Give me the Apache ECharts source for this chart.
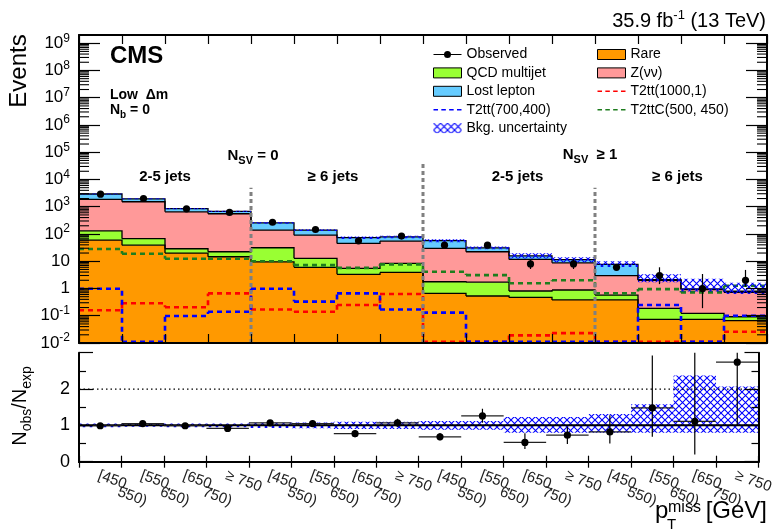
<!DOCTYPE html>
<html><head><meta charset="utf-8">
<script src="https://cdn.jsdelivr.net/npm/echarts@6/dist/echarts.min.js"></script>
<style>html,body{margin:0;padding:0;background:#fff}#c{width:776px;height:531px}</style>
</head><body><div id="c"></div>
<script>
// ---------------- data ----------------
const categories = ['[450, 550)','[550, 650)','[650, 750)','≥ 750',
                    '[450, 550)','[550, 650)','[650, 750)','≥ 750',
                    '[450, 550)','[550, 650)','[650, 750)','≥ 750',
                    '[450, 550)','[550, 650)','[650, 750)','≥ 750'];
const rare       = [60, 39, 20, 14.6, 9.5, 6.0, 3.3, 3.9, 0.66, 0.53, 0.47, 0.38, 0.38, 0.074, 0.074, 0.066];
const qcd        = [71, 28, 8.7, 7.7, 21.8, 6.8, 2.2, 4.5, 1.11, 1.17, 0.34, 0.5, 0.195, 0.113, 0.049, 0.026];
const znunu      = [1729, 1453, 624, 530, 108, 78, 39.5, 46.6, 27.7, 20.6, 10.8, 7.9, 2.37, 1.81, 0.78, 0.63];
const lostLepton = [1070, 430, 197, 128, 116, 48, 28, 23, 27.5, 8.7, 4.2, 2.7, 4.76, 0.1, 0.06, 0.07];
const observed   = [2900, 2000, 840, 620, 270, 146, 56, 84, 39, 39, 8, 8, 6, 3, 1, 2];
const observedLo = [2846, 1955, 811, 595, 254, 134, 49, 75, 33, 33, 5.2, 5.2, 5.4, 1.45, 0.19, 1.16];
const observedHi = [2954, 2045, 869, 645, 287, 158, 64, 94, 46, 46, 12, 12, 7.3, 6.0, 3.4, 4.8];
const t2tt1000   = [0.16, 0.286, 0.204, 0.66, 0.17, 0.14, 0.247, 0.63, 0.011, 0.011, 0.019, 0.023, 0.011, 0.011, 0.011, 0.026];
const t2tt700    = [0.98, 0.011, 0.098, 0.14, 0.98, 0.33, 0.66, 0.17, 0.13, 0.011, 0.011, 0.011, 0.011, 0.247, 0.011, 0.1];
const t2ttc500   = [28, 18.8, 12.3, 12.3, 10, 7.2, 5.7, 7.7, 4.1, 3.1, 1.55, 2.0, 0.66, 0.95, 0.72, 1.26];
const bkgRelLo   = [0.95, 0.96, 0.95, 0.95, 0.93, 0.92, 0.9, 0.9, 0.88, 0.88, 0.8, 0.8, 0.8, 0.8, 0.8, 0.8];
const bkgRelHi   = [1.05, 1.04, 1.05, 1.05, 1.07, 1.08, 1.1, 1.1, 1.12, 1.12, 1.23, 1.23, 1.31, 1.58, 2.37, 2.07];
const ratio      = [0.99, 1.05, 0.99, 0.915, 1.07, 1.05, 0.77, 1.07, 0.685, 1.26, 0.53, 0.73, 0.82, 1.48, 1.11, 2.74];
const ratioLo    = [0.97, 1.03, 0.96, 0.88, 1.0, 0.96, 0.67, 0.96, 0.59, 1.07, 0.35, 0.485, 0.5, 0.685, 0.2, 1.0];
const ratioHi    = [1.01, 1.07, 1.02, 0.95, 1.14, 1.14, 0.87, 1.18, 0.79, 1.46, 0.78, 0.96, 1.28, 2.92, 3.5, 3.5];
const logTickValues = [1e-2, 1e-1, 1, 10, 1e2, 1e3, 1e4, 1e5, 1e6, 1e7, 1e8, 1e9];
const regionBoundaries = [3, 7, 11];          // separator after these bin indices
const regionSeparatorTop = [5000, 45000, 5000];

// ---------------- helpers ----------------
const FONT = '"Liberation Sans", Arial, Helvetica, sans-serif';
const N = categories.length;
const YMIN = 0.01, YMAX = 2e9;
const GRID_LEFT = 79, GRID_RIGHT = 9;
const minorLogTicks = [];
for (let e = -2; e <= 9; e++) for (let m = 2; m <= 9; m++) { const v = m * Math.pow(10, e); if (v < YMAX) minorLogTicks.push(v); }

function makeHatch() {
  const s = 7, cv = document.createElement('canvas');
  cv.width = s; cv.height = s;
  const ctx = cv.getContext('2d');
  ctx.strokeStyle = '#0000ff'; ctx.lineWidth = 1.1;
  ctx.beginPath();
  ctx.moveTo(-1, -1); ctx.lineTo(s + 1, s + 1);
  ctx.moveTo(s + 1, -1); ctx.lineTo(-1, s + 1);
  ctx.stroke();
  return cv;
}
const hatch = { image: makeHatch(), repeat: 'repeat' };

const comps = [
  { name: 'Rare', vals: rare, color: '#ff9900' },
  { name: 'QCD multijet', vals: qcd, color: '#99ff33' },
  { name: 'Z(νν)', vals: znunu, color: '#ff9999' },
  { name: 'Lost lepton', vals: lostLepton, color: '#66ccff' }
];
let cum = new Array(N).fill(0);
const levels = [];
comps.forEach(c => { const prev = cum.slice(); cum = cum.map((v, i) => v + c.vals[i]); levels.push({ prev, cur: cum.slice() }); });
const total = cum;

function stackSeries(c, k) {
  const { prev, cur } = levels[k];
  const data = cur.map((v, i) => [i, k === 0 ? YMIN : prev[i], v, i < N - 1 ? cur[i + 1] : v]);
  return {
    type: 'custom', name: c.name, xAxisIndex: 0, yAxisIndex: 0, clip: true, z: 2,
    itemStyle: { color: c.color, borderColor: '#000', borderWidth: 1 },
    encode: { x: 0, y: 2 }, data,
    renderItem(params, api) {
      const i = api.value(0);
      const pLo = api.coord([i, api.value(1)]);
      const pHi = api.coord([i, api.value(2)]);
      const pNx = api.coord([i, api.value(3)]);
      const w = api.size([1, 1])[0];
      const xL = pLo[0] - w / 2, xR = pLo[0] + w / 2;
      const pts = [[xL, pHi[1]], [xR, pHi[1]]];
      if (i < N - 1) pts.push([xR, pNx[1]]);
      return { type: 'group', children: [
        { type: 'rect', z2: 0, shape: { x: xL, y: pHi[1], width: w, height: pLo[1] - pHi[1] }, style: { fill: c.color } },
        { type: 'polyline', z2: 10, shape: { points: pts }, style: { stroke: '#000', lineWidth: 1.3, fill: null } }
      ] };
    }
  };
}

function signalSeries(name, vals, color) {
  const data = vals.map((v, i) => [i, v, i < N - 1 ? vals[i + 1] : v]);
  return {
    type: 'custom', name, xAxisIndex: 0, yAxisIndex: 0, clip: true, z: 3,
    itemStyle: { color, borderWidth: 0 }, encode: { x: 0, y: 1 }, data,
    renderItem(params, api) {
      const i = api.value(0);
      const p = api.coord([i, api.value(1)]);
      const q = api.coord([i, api.value(2)]);
      const w = api.size([1, 1])[0];
      const xL = p[0] - w / 2, xR = p[0] + w / 2;
      const pts = [[xL, p[1]], [xR, p[1]]];
      if (i < N - 1) pts.push([xR, q[1]]);
      return { type: 'polyline', z2: 20, shape: { points: pts }, style: { stroke: color, lineWidth: 2.6, lineDash: [5, 4], fill: null } };
    }
  };
}

function bandSeries(name, xi, yi, data) {
  return {
    type: 'custom', name, xAxisIndex: xi, yAxisIndex: yi, clip: true, z: 4,
    itemStyle: { color: hatch, borderWidth: 0 }, encode: { x: 0, y: 2 }, data,
    renderItem(params, api) {
      const i = api.value(0);
      const a = api.coord([i, api.value(1)]);
      const b = api.coord([i, api.value(2)]);
      const w = api.size([1, 1])[0];
      return { type: 'rect', z2: 30, shape: { x: a[0] - w / 2, y: b[1], width: w, height: a[1] - b[1] }, style: { fill: hatch } };
    }
  };
}

function logLabel(v) {
  const e = Math.round(Math.log10(v));
  if (e === 0) return '{b|1}';
  if (e === 1) return '{b|10}';
  return '{b|10}{e|' + e + '}';
}
const logRich = {
  b: { fontSize: 17, lineHeight: 22, fontFamily: FONT, color: '#000' },
  e: { fontSize: 12, lineHeight: 12, verticalAlign: 'top', fontFamily: FONT, color: '#000' }
};

const AX = { color: '#000', width: 2 };
function catAxis(grid, pos, len, labels) {
  return {
    type: 'category', gridIndex: grid, data: categories, position: pos, z: 10,
    boundaryGap: true,
    axisLine: { show: true, lineStyle: AX },
    axisTick: { show: true, inside: true, length: len, interval: 0, lineStyle: { color: '#000', width: 1.2 } },
    axisLabel: labels || { show: false },
    splitLine: { show: false }
  };
}
function logAxis(pos, labels) {
  return {
    type: 'log', gridIndex: 0, min: YMIN, max: YMAX, logBase: 10, position: pos, z: 10,
    axisLine: { show: true, lineStyle: AX },
    axisTick: { show: true, inside: true, length: 21, customValues: logTickValues, lineStyle: { color: '#000', width: 1.2 } },
    axisLabel: labels ? { show: true, customValues: logTickValues, formatter: logLabel, rich: logRich, margin: 9 } : { show: false },
    splitLine: { show: false }, minorTick: { show: false }
  };
}
function ratioAxis(pos, labels) {
  return {
    type: 'value', gridIndex: 1, min: 0, max: 3, interval: 1, position: pos, z: 10,
    axisLine: { show: true, lineStyle: AX },
    axisTick: { show: true, inside: true, length: 14, lineStyle: { color: '#000', width: 1.2 } },
    minorTick: { show: true, splitNumber: 2, length: 7, lineStyle: { color: '#000', width: 1.2 } },
    axisLabel: labels ? { show: true, fontSize: 18, fontFamily: FONT, color: '#000', margin: 9, formatter: v => (v < 3 ? String(v) : '') } : { show: false },
    splitLine: { show: false }
  };
}

const obsIcon = 'path://M0,4.4H28V5.6H0Z M10.5,5A3.5,3.5,0,1,1,17.5,5A3.5,3.5,0,1,1,10.5,5Z';
const dashIcon = 'path://M0,0H4.5V1.6H0Z M7.8,0H12.3V1.6H7.8Z M15.6,0H20.1V1.6H15.6Z M23.4,0H27.9V1.6H23.4Z';
const boxStyle = { borderColor: '#000', borderWidth: 1 };
const noBorder = { borderWidth: 0 };
const legendCommon = {
  orient: 'vertical', top: 45.5, padding: 0, itemWidth: 28, itemHeight: 10, itemGap: 0.4, selectedMode: false,
  textStyle: { fontSize: 14, lineHeight: 18, fontFamily: FONT, color: '#000' }
};

// ---------------- series ----------------
const series = [];
comps.forEach((c, k) => series.push(stackSeries(c, k)));
series.push(signalSeries('T2tt(1000,1)', t2tt1000, '#ff0000'));
series.push(signalSeries('T2tt(700,400)', t2tt700, '#0000ff'));
series.push(signalSeries('T2ttC(500, 450)', t2ttc500, '#1e7d1e'));
series.push(bandSeries('Bkg. uncertainty', 0, 0, total.map((t, i) => [i, t * bkgRelLo[i], t * bkgRelHi[i]])));
// log minor ticks through the log axis (left and right frame edges)
series.push({
  type: 'custom', xAxisIndex: 0, yAxisIndex: 0, clip: false, z: 12,
  encode: { x: 0, y: 1 }, data: minorLogTicks.map(v => [0, v]),
  renderItem(params, api) {
    const v = api.value(1);
    const p = api.coord([0, v]);
    const q = api.coord([N - 1, v]);
    const w = api.size([1, 1])[0];
    const xL = p[0] - w / 2, xR = q[0] + w / 2;
    return { type: 'group', children: [
      { type: 'line', z2: 60, shape: { x1: xL, y1: p[1], x2: xL + 10, y2: p[1] }, style: { stroke: '#000', lineWidth: 1.1 } },
      { type: 'line', z2: 60, shape: { x1: xR - 10, y1: q[1], x2: xR, y2: q[1] }, style: { stroke: '#000', lineWidth: 1.1 } }
    ] };
  }
});
// region separators
series.push({
  type: 'custom', xAxisIndex: 0, yAxisIndex: 0, clip: true, z: 5, silent: true,
  encode: { x: 0, y: 1 },
  data: regionBoundaries.map((b, k) => [b, regionSeparatorTop[k]]),
  renderItem(params, api) {
    const i = api.value(0);
    const top = api.coord([i, api.value(1)]);
    const bot = api.coord([i, YMIN]);
    const w = api.size([1, 1])[0];
    const x = top[0] + w / 2;
    return { type: 'line', z2: 40, shape: { x1: x, y1: bot[1], x2: x, y2: top[1] }, style: { stroke: '#808080', lineWidth: 3, lineDash: [4, 3] } };
  }
});
// observed
series.push({
  type: 'custom', name: 'Observed', xAxisIndex: 0, yAxisIndex: 0, clip: true, z: 6,
  itemStyle: { color: '#000', borderWidth: 0 }, encode: { x: 0, y: 1 },
  data: observed.map((v, i) => [i, v, observedLo[i], observedHi[i]]),
  renderItem(params, api) {
    const i = api.value(0);
    const p = api.coord([i, api.value(1)]);
    const a = api.coord([i, api.value(2)]);
    const b = api.coord([i, api.value(3)]);
    return { type: 'group', children: [
      { type: 'line', z2: 50, shape: { x1: p[0], y1: a[1], x2: p[0], y2: b[1] }, style: { stroke: '#000', lineWidth: 1.2 } },
      { type: 'circle', z2: 51, shape: { cx: p[0], cy: p[1], r: 3.6 }, style: { fill: '#000' } }
    ] };
  }
});
// ratio band
series.push(bandSeries('Bkg. uncertainty', 2, 2, bkgRelLo.map((lo, i) => [i, lo, bkgRelHi[i]])));
// ratio reference lines (1 solid, 2 dotted)
series.push({
  type: 'custom', xAxisIndex: 2, yAxisIndex: 2, clip: true, z: 5, silent: true,
  encode: { x: 0, y: 1 }, data: [[0, 1], [0, 2]],
  renderItem(params, api) {
    const v = api.value(1);
    const p0 = api.coord([0, v]);
    const p1 = api.coord([N - 1, v]);
    const w = api.size([1, 0])[0];
    const dotted = params.dataIndex === 1;
    return { type: 'line', z2: 40, shape: { x1: p0[0] - w / 2, y1: p0[1], x2: p1[0] + w / 2, y2: p1[1] },
      style: { stroke: '#000', lineWidth: dotted ? 1.2 : 2, lineDash: dotted ? [1.5, 3] : null } };
  }
});
// ratio points
series.push({
  type: 'custom', name: 'Ratio', xAxisIndex: 2, yAxisIndex: 2, clip: true, z: 6,
  itemStyle: { color: '#000' }, encode: { x: 0, y: 1 },
  data: ratio.map((r, i) => [i, r, ratioLo[i], ratioHi[i]]),
  renderItem(params, api) {
    const i = api.value(0);
    const p = api.coord([i, api.value(1)]);
    const a = api.coord([i, api.value(2)]);
    const b = api.coord([i, api.value(3)]);
    const w = api.size([1, 0])[0];
    return { type: 'group', children: [
      { type: 'line', z2: 50, shape: { x1: p[0] - w / 2, y1: p[1], x2: p[0] + w / 2, y2: p[1] }, style: { stroke: '#222', lineWidth: 1.2 } },
      { type: 'line', z2: 50, shape: { x1: p[0], y1: a[1], x2: p[0], y2: b[1] }, style: { stroke: '#000', lineWidth: 1.2 } },
      { type: 'circle', z2: 51, shape: { cx: p[0], cy: p[1], r: 3.6 }, style: { fill: '#000' } }
    ] };
  }
});

// ---------------- text annotations ----------------
function txt(x, y, text, size, opts) {
  opts = opts || {};
  return { type: 'text', x, y, rotation: opts.rotation || 0, z: 100,
    style: Object.assign({ text, fontSize: size, fontFamily: FONT, fontWeight: opts.bold ? 'bold' : 'normal', fill: '#000',
      align: opts.align || 'left', verticalAlign: 'middle' }, opts.rich ? { rich: opts.rich } : {}) };
}
function subRich(size, subSize, bold) {
  const w = bold ? 'bold' : 'normal';
  return {
    m: { fontSize: size, lineHeight: size + 6, fontFamily: FONT, fontWeight: w, fill: '#000' },
    s: { fontSize: subSize, lineHeight: subSize, verticalAlign: 'bottom', fontFamily: FONT, fontWeight: w, fill: '#000' },
    u: { fontSize: subSize, lineHeight: subSize, verticalAlign: 'top', fontFamily: FONT, fontWeight: w, fill: '#000' }
  };
}
const graphics = [
  txt(110, 56.5, 'CMS', 24, { bold: true }),
  txt(110, 95, 'Low  Δm', 14, { bold: true }),
  txt(110, 110.5, '{m|N}{s|b}{m| = 0}', 14, { bold: true, rich: subRich(14, 10, true) }),
  txt(253, 156, '{m|N}{s|SV}{m| = 0}', 15, { bold: true, align: 'center', rich: subRich(15, 11, true) }),
  txt(590, 155, '{m|N}{s|SV}{m|  ≥ 1}', 15, { bold: true, align: 'center', rich: subRich(15, 11, true) }),
  txt(165, 177, '2-5 jets', 15, { bold: true, align: 'center' }),
  txt(333, 177, '≥ 6 jets', 15, { bold: true, align: 'center' }),
  txt(517.5, 177, '2-5 jets', 15, { bold: true, align: 'center' }),
  txt(677.5, 177, '≥ 6 jets', 15, { bold: true, align: 'center' }),
  txt(766, 21.5, '{m|35.9 fb}{u|-1}{m| (13 TeV)}', 20, { align: 'right', rich: subRich(20, 13, false) }),
  txt(19, 71, 'Events', 24, { align: 'center', rotation: Math.PI / 2 }),
  txt(20, 406, '{m|N}{s|obs}{m|/N}{s|exp}', 20, { align: 'center', rotation: Math.PI / 2,
      rich: { m: { fontSize: 20, lineHeight: 28, fontFamily: FONT, fill: '#000' }, s: { fontSize: 14, lineHeight: 14, verticalAlign: 'bottom', fontFamily: FONT, fill: '#000' } } }),
  txt(655, 511.7, 'p', 24),
  txt(668, 507.5, 'miss', 16),
  txt(667, 524.8, 'T', 15),
  txt(767, 511.7, '[GeV]', 24, { align: 'right' })
];

// ---------------- option ----------------
const option = {
  animation: false,
  backgroundColor: '#fff',
  textStyle: { fontFamily: FONT },
  grid: [
    { left: GRID_LEFT, right: GRID_RIGHT, top: 35, height: 308 },
    { left: GRID_LEFT, right: GRID_RIGHT, top: 352.7, height: 109 }
  ],
  xAxis: [
    catAxis(0, 'bottom', 9),
    catAxis(0, 'top', 9),
    catAxis(1, 'bottom', 6, {
      show: true, interval: 0, rotate: -20, align: 'left', verticalAlign: 'top', margin: 9,
      formatter: v => { const p = v.split(', '); return p.length === 2 ? '{a|' + p[0] + ',}\n{b|' + p[1] + '}' : '{a|' + v + '}'; },
      rich: {
        a: { fontSize: 15, lineHeight: 9, fontFamily: FONT, color: '#222' },
        b: { fontSize: 15, lineHeight: 9, fontFamily: FONT, color: '#222', padding: [0, 0, 0, 24] }
      }
    }),
    catAxis(1, 'top', 6)
  ],
  yAxis: [
    logAxis('left', true),
    logAxis('right', false),
    ratioAxis('left', true),
    ratioAxis('right', false)
  ],
  legend: [
    Object.assign({}, legendCommon, { left: 433, data: [
      { name: 'Observed', icon: obsIcon, itemStyle: noBorder },
      { name: 'QCD multijet', icon: 'rect', itemStyle: boxStyle },
      { name: 'Lost lepton', icon: 'rect', itemStyle: boxStyle },
      { name: 'T2tt(700,400)', icon: dashIcon, itemStyle: noBorder },
      { name: 'Bkg. uncertainty', icon: 'rect', itemStyle: noBorder }
    ] }),
    Object.assign({}, legendCommon, { left: 597, data: [
      { name: 'Rare', icon: 'rect', itemStyle: boxStyle },
      { name: 'Z(νν)', icon: 'rect', itemStyle: boxStyle },
      { name: 'T2tt(1000,1)', icon: dashIcon, itemStyle: noBorder },
      { name: 'T2ttC(500, 450)', icon: dashIcon, itemStyle: noBorder }
    ] })
  ],
  graphic: { elements: graphics },
  series
};

const chart = echarts.init(document.getElementById('c'), null, { renderer: 'canvas' });
chart.setOption(option);
</script>
</body></html>
